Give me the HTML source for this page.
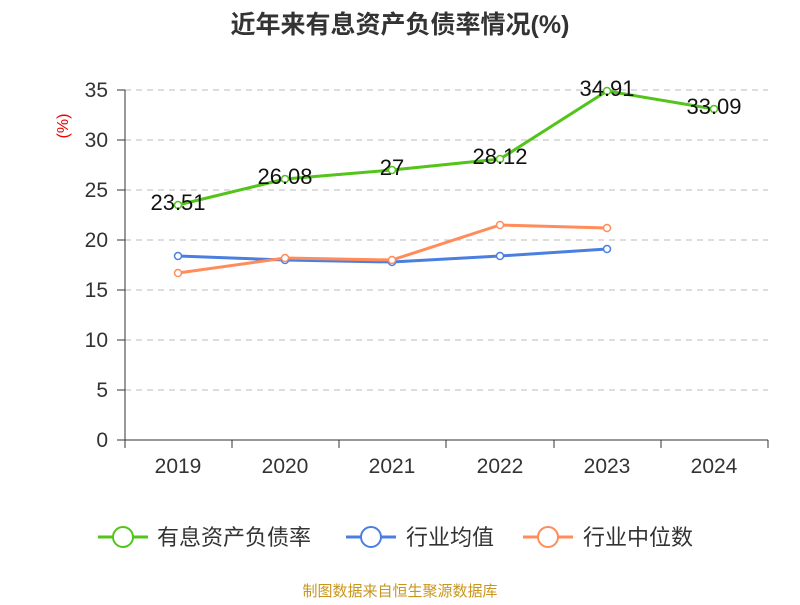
<!DOCTYPE html>
<html><head><meta charset="utf-8"><style>body{margin:0;background:#fff}</style></head><body>
<svg width="800" height="600" xmlns="http://www.w3.org/2000/svg" font-family="Liberation Sans, Noto Sans CJK SC, sans-serif">
<rect width="800" height="600" fill="#fff"/>
<text x="400" y="33" text-anchor="middle" font-size="25" font-weight="bold" fill="#333">近年来有息资产负债率情况(%)</text>
<text x="68" y="126" text-anchor="middle" font-size="16" fill="#e00" transform="rotate(-90 68 126)">(%)</text>
<g stroke="#bbb" stroke-dasharray="6,5" stroke-width="1">
<line x1="125" x2="768" y1="90" y2="90"/><line x1="125" x2="768" y1="140" y2="140"/><line x1="125" x2="768" y1="190" y2="190"/><line x1="125" x2="768" y1="240" y2="240"/><line x1="125" x2="768" y1="290" y2="290"/><line x1="125" x2="768" y1="340" y2="340"/><line x1="125" x2="768" y1="390" y2="390"/>
</g>
<g stroke="#333" stroke-width="1">
<line x1="125" x2="125" y1="90" y2="440"/><line x1="125" x2="768" y1="440" y2="440"/>
<line x1="117" x2="125" y1="90" y2="90"/><line x1="117" x2="125" y1="140" y2="140"/><line x1="117" x2="125" y1="190" y2="190"/><line x1="117" x2="125" y1="240" y2="240"/><line x1="117" x2="125" y1="290" y2="290"/><line x1="117" x2="125" y1="340" y2="340"/><line x1="117" x2="125" y1="390" y2="390"/><line x1="117" x2="125" y1="440" y2="440"/>
<line x1="125" x2="125" y1="440" y2="448"/><line x1="232" x2="232" y1="440" y2="448"/><line x1="339" x2="339" y1="440" y2="448"/><line x1="446" x2="446" y1="440" y2="448"/><line x1="554" x2="554" y1="440" y2="448"/><line x1="661" x2="661" y1="440" y2="448"/><line x1="768" x2="768" y1="440" y2="448"/>
</g>
<g font-size="21" fill="#333" text-anchor="end">
<text x="108" y="97">35</text><text x="108" y="147">30</text><text x="108" y="197">25</text><text x="108" y="247">20</text><text x="108" y="297">15</text><text x="108" y="347">10</text><text x="108" y="397">5</text><text x="108" y="447">0</text>
</g>
<g font-size="21" fill="#333" text-anchor="middle">
<text x="178" y="473">2019</text><text x="285" y="473">2020</text><text x="392" y="473">2021</text><text x="500" y="473">2022</text><text x="607" y="473">2023</text><text x="714" y="473">2024</text>
</g>
<g fill="none" stroke-width="3">
<polyline stroke="#52c41a" points="178,205 285,179 392,170 500,159 607,91 714,109"/>
<polyline stroke="#4a7fe0" points="178,256 285,260 392,262 500,256 607,249"/>
<polyline stroke="#ff8c5a" points="178,273 285,258 392,260 500,225 607,228"/>
</g>
<g fill="#fff" stroke-width="1.5">
<g stroke="#52c41a"><circle cx="178" cy="205" r="3.5"/><circle cx="285" cy="179" r="3.5"/><circle cx="392" cy="170" r="3.5"/><circle cx="500" cy="159" r="3.5"/><circle cx="607" cy="91" r="3.5"/><circle cx="714" cy="109" r="3.5"/></g>
<g stroke="#4a7fe0"><circle cx="178" cy="256" r="3.5"/><circle cx="285" cy="260" r="3.5"/><circle cx="392" cy="262" r="3.5"/><circle cx="500" cy="256" r="3.5"/><circle cx="607" cy="249" r="3.5"/></g>
<g stroke="#ff8c5a"><circle cx="178" cy="273" r="3.5"/><circle cx="285" cy="258" r="3.5"/><circle cx="392" cy="260" r="3.5"/><circle cx="500" cy="225" r="3.5"/><circle cx="607" cy="228" r="3.5"/></g>
</g>
<g font-size="22" fill="#111" text-anchor="middle">
<text x="178" y="210">23.51</text><text x="285" y="184">26.08</text><text x="392" y="175">27</text><text x="500" y="164">28.12</text><text x="607" y="96">34.91</text><text x="714" y="114">33.09</text>
</g>
<g font-size="22" fill="#333">
<line x1="98" x2="148" y1="537" y2="537" stroke="#52c41a" stroke-width="3"/><circle cx="123" cy="537" r="10" fill="#fff" stroke="#52c41a" stroke-width="2"/>
<text x="157" y="545">有息资产负债率</text>
<line x1="346" x2="396" y1="537" y2="537" stroke="#4a7fe0" stroke-width="3"/><circle cx="371" cy="537" r="10" fill="#fff" stroke="#4a7fe0" stroke-width="2"/>
<text x="406" y="545">行业均值</text>
<line x1="523" x2="573" y1="537" y2="537" stroke="#ff8c5a" stroke-width="3"/><circle cx="548" cy="537" r="10" fill="#fff" stroke="#ff8c5a" stroke-width="2"/>
<text x="583" y="545">行业中位数</text>
</g>
<text x="400" y="596" text-anchor="middle" font-size="15" fill="#c8961e">制图数据来自恒生聚源数据库</text>
</svg>
</body></html>
